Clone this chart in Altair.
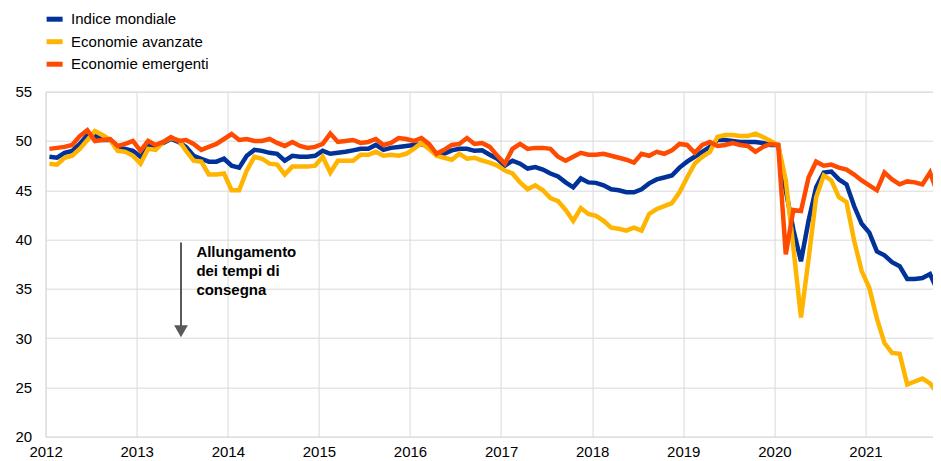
import altair as alt
import pandas as pd

# ---- data (monthly, Jan 2012 - Nov 2021) ----
start_year = 2012
series_names = ["Indice mondiale", "Economie avanzate", "Economie emergenti"]
series_colors = ["#003299", "#FFB400", "#FF4B00"]

mondiale = [
    48.4, 48.3, 48.8, 49.0, 49.7, 50.6, 50.5, 50.1, 50.1, 49.3, 49.2, 49.0,
    48.4, 49.6, 49.5, 49.8, 50.2, 49.9, 49.4, 48.5, 48.2, 47.9, 47.9, 48.2,
    47.5, 47.3, 48.5, 49.1, 49.0, 48.8, 48.7, 48.0, 48.5, 48.4, 48.4, 48.5,
    49.0, 48.7, 48.8, 48.9, 49.05, 49.2, 49.2, 49.6, 49.1, 49.3, 49.4, 49.5,
    49.6, 49.7, 49.4, 48.7, 48.7, 49.05, 49.2, 49.2, 49.0, 49.05, 48.6, 48.2,
    47.5, 48.0, 47.7, 47.2, 47.35, 47.1, 46.7, 46.4, 45.8, 45.3, 46.2, 45.8,
    45.75, 45.5, 45.1, 45.0, 44.8, 44.8, 45.1, 45.7, 46.1, 46.3, 46.5, 47.3,
    47.9, 48.4, 48.9, 49.4, 50.1, 50.1, 50.0, 49.9, 49.9, 49.9, 49.8, 49.6,
    49.6, 45.0, 41.0, 37.8, 41.9, 45.3, 46.8, 46.9, 46.1, 45.6, 43.4, 41.6,
    40.7, 38.8, 38.4, 37.7, 37.3, 36.0, 36.0, 36.1, 36.5, 34.8, 36.8,
]
avanzate = [
    47.7, 47.6, 48.3, 48.5, 49.2, 50.1, 51.0, 50.6, 50.1, 49.0, 48.9, 48.5,
    47.7, 49.2, 49.1, 49.9, 50.3, 50.1, 49.0, 48.0, 47.9, 46.6, 46.6, 46.7,
    45.0, 45.0, 47.0, 48.4, 48.2, 47.7, 47.6, 46.6, 47.4, 47.4, 47.4, 47.5,
    48.4, 46.8, 48.0, 48.0, 48.0, 48.6, 48.6, 48.9, 48.5, 48.6, 48.5, 48.7,
    49.2, 49.8, 49.2, 48.5, 48.3, 48.1, 48.7, 48.2, 48.3, 48.0, 47.8, 47.5,
    47.0, 46.7, 45.8, 45.1, 45.5, 45.0, 44.2, 43.9, 43.0, 41.9, 43.2, 42.6,
    42.4, 41.9, 41.2, 41.1, 40.9, 41.2, 40.9, 42.6, 43.1, 43.4, 43.7, 44.8,
    46.3, 47.7, 48.4, 48.9, 50.4, 50.6, 50.6, 50.5, 50.5, 50.75, 50.4, 50.0,
    49.6, 46.0, 39.2, 32.1, 38.0, 44.3, 46.5, 46.0, 44.3, 43.8, 39.9, 36.8,
    35.1, 32.0, 29.5, 28.5, 28.4, 25.3, 25.6, 25.9, 25.4, 24.4, 26.1,
]
emergenti = [
    49.2, 49.3, 49.4, 49.6, 50.5, 51.1, 50.0, 50.1, 50.2, 49.5, 49.7, 50.0,
    49.0, 50.0, 49.6, 49.9, 50.4, 50.0, 50.1, 49.7, 49.1, 49.4, 49.7, 50.2,
    50.7, 50.1, 50.2, 50.0, 50.0, 50.2, 49.8, 49.5, 49.9, 49.5, 49.3, 49.4,
    49.7, 50.75, 49.9, 50.0, 50.1, 49.8, 49.9, 50.2, 49.6, 49.8, 50.3, 50.2,
    50.0, 50.3, 49.7, 48.7, 49.1, 49.6, 49.7, 50.3, 49.7, 49.8, 49.4, 48.5,
    47.7, 49.2, 49.7, 49.2, 49.3, 49.3, 49.2, 48.4, 48.0, 48.4, 48.8, 48.6,
    48.6, 48.7, 48.5, 48.3, 48.1, 47.8, 48.7, 48.5, 48.9, 48.7, 49.05, 49.7,
    49.6, 48.8, 49.6, 49.9, 49.5, 49.6, 49.8, 49.6, 49.5, 48.9, 49.4, 49.7,
    49.6, 38.5, 43.0, 42.9, 46.3, 47.9, 47.5, 47.6, 47.3, 47.1, 46.6, 46.0,
    45.5, 45.0, 46.8, 46.1, 45.6, 45.9, 45.8, 45.6, 46.8, 44.7, 47.3,
]

year_ticks = list(range(2012, 2022))
y_ticks = [20, 25, 30, 35, 40, 45, 50, 55]

annotation_lines = ["Allungamento", "dei tempi di", "consegna"]

# ---- layout ----
PAD_LEFT = 37.6
PLOT_W = 925 - PAD_LEFT
PX_PER_YEAR = 91.1
x_domain_end = 2012 + PLOT_W / PX_PER_YEAR

# ---- build long table ----
rows = []
for name, vals in zip(series_names, [mondiale, avanzate, emergenti]):
    for i, v in enumerate(vals):
        rows.append({"t": start_year + (i + 0.5) / 12, "serie": name, "valore": v})
df = pd.DataFrame(rows)

FONT = "Liberation Sans, Arial, sans-serif"

x_scale = alt.Scale(domain=[2012, x_domain_end], nice=False, zero=False)
y_scale = alt.Scale(domain=[20, 55], nice=False, zero=False)

lines = alt.Chart(df).mark_line(strokeWidth=4.5, clip=True).encode(
    x=alt.X(
        "t:Q",
        scale=x_scale,
        axis=alt.Axis(
            title=None, values=year_ticks, format="d", grid=True, ticks=False,
            tickSize=0, domain=False, labelPadding=8, labelFontSize=15,
            labelColor="#000000", gridColor="#d9d9d9", gridWidth=1,
            labelFont=FONT, labelFlush=False,
        ),
    ),
    y=alt.Y(
        "valore:Q",
        scale=y_scale,
        axis=alt.Axis(
            title=None, values=y_ticks, grid=True, ticks=False, tickSize=0,
            domain=False, labelPadding=14, labelFontSize=15,
            labelColor="#000000", gridColor="#d9d9d9", gridWidth=1,
            labelFont=FONT, labelFlush=False,
        ),
    ),
    color=alt.Color(
        "serie:N",
        scale=alt.Scale(domain=series_names, range=series_colors),
        sort=series_names,
        legend=alt.Legend(
            title=None, orient="none", legendX=-1.5, legendY=-83,
            direction="vertical", symbolType="stroke", symbolSize=256,
            symbolStrokeWidth=5, labelFontSize=15, labelFont=FONT,
            labelColor="#000000", labelOffset=6, rowPadding=1.5,
        ),
    ),
)

arrow_df = pd.DataFrame({"x": [2013.486], "y": [39.7], "y2": [31.0], "tip": [30.7]})
arrow_rule = alt.Chart(arrow_df).mark_rule(color="#595959", strokeWidth=2).encode(
    x=alt.X("x:Q", scale=x_scale), y=alt.Y("y:Q", scale=y_scale), y2="y2:Q"
)
arrow_head = alt.Chart(arrow_df).mark_point(
    shape="triangle-down", filled=True, color="#595959", size=190, opacity=1
).encode(x=alt.X("x:Q", scale=x_scale), y=alt.Y("tip:Q", scale=y_scale))

text_df = pd.DataFrame({"x": [2013.655], "y": [38.7], "label": [annotation_lines]})
arrow_text = alt.Chart(text_df).mark_text(
    align="left", baseline="middle", fontSize=15, fontWeight="bold",
    font=FONT, color="#000000", lineHeight=19,
).encode(x=alt.X("x:Q", scale=x_scale), y=alt.Y("y:Q", scale=y_scale), text="label")

chart = (
    alt.layer(lines, arrow_rule, arrow_head, arrow_text)
    .properties(
        width=PLOT_W,
        height=345,
        autosize=alt.AutoSizeParams(type="none"),
        padding={"left": PAD_LEFT, "top": 83.7, "right": 0, "bottom": 24},
    )
    .configure_view(strokeWidth=0)
    .configure(font=FONT)
)

chart.save("out.html", embed_options={"renderer": "svg", "actions": False})
